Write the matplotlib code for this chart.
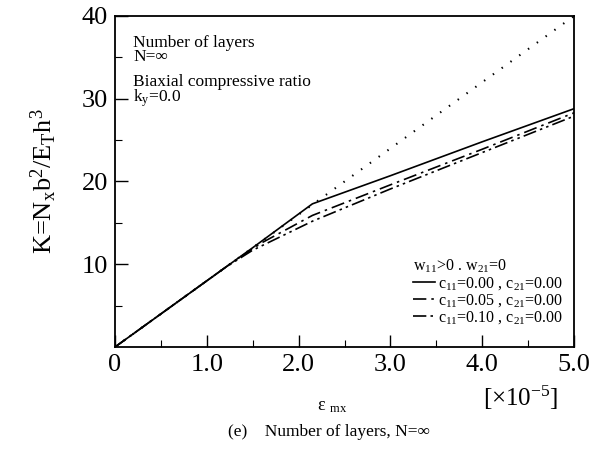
import matplotlib
matplotlib.use("Agg")
import matplotlib.pyplot as plt

plt.rcParams['font.family'] = ['Liberation Serif', 'DejaVu Serif']
plt.rcParams['mathtext.fontset'] = 'custom'
plt.rcParams['mathtext.rm'] = 'Liberation Serif'
plt.rcParams['mathtext.it'] = 'Liberation Serif:italic'

# ===== 数据 (ε_mx 单位 1e-5) =====
eps_lin = [0.0, 5.0]
K_lin   = [0.0, 40.0]

eps_c00 = [0.0, 1.0, 1.5, 2.15, 3.0, 4.0, 5.0]
K_c00   = [0.0, 8.0, 12.0, 17.3, 20.7, 24.8, 28.8]

eps_c05 = [0.0, 1.3, 1.6, 2.15, 3.0, 4.0, 5.0]
K_c05   = [0.0, 10.4, 12.6, 15.9, 19.6, 23.9, 28.3]

eps_c10 = [0.0, 1.2, 1.5, 2.15, 3.0, 4.0, 5.0]
K_c10   = [0.0, 9.6, 11.7, 15.2, 19.1, 23.5, 27.9]

labels = ["c$_{11}$=0.00 , c$_{21}$=0.00",
          "c$_{11}$=0.05 , c$_{21}$=0.00",
          "c$_{11}$=0.10 , c$_{21}$=0.00"]

x_ticks  = [0, 1, 2, 3, 4, 5]
x_labels = ["0", "1.0", "2.0", "3.0", "4.0", "5.0"]
y_ticks  = [10, 20, 30, 40]

fig = plt.figure(figsize=(5.98, 4.57), dpi=100)
ax = fig.add_axes([0.1923, 0.2407, 0.7677, 0.7243])

ax.plot(eps_lin, K_lin, color='k', lw=1.5, linestyle=(0, (0.7, 4.5)))
ax.plot(eps_c00, K_c00, color='k', lw=1.2, label=labels[0])
ax.plot(eps_c05, K_c05, color='k', lw=1.2, linestyle=(0, (8, 3, 1.5, 3)), label=labels[1])
ax.plot(eps_c10, K_c10, color='k', lw=1.2, linestyle=(0, (8, 2.5, 1.5, 2.5, 1.5, 2.5)), label=labels[2])

ax.set_xlim(0, 5)
ax.set_ylim(0, 40)
ax.set_xticks(x_ticks)
ax.set_xticklabels(x_labels)
ax.set_yticks(y_ticks)
ax.set_xticks([0.5, 1.5, 2.5, 3.5, 4.5], minor=True)
ax.set_yticks([5, 15, 25, 35], minor=True)
ax.tick_params(which='major', direction='in', length=9, width=1.0, labelsize=19, pad=5)
ax.tick_params(which='minor', direction='in', length=5, width=0.8)
for s in ax.spines.values():
    s.set_linewidth(1.3)

ax.set_ylabel("K=N$_\\mathrm{x}$b$^2$/E$_\\mathrm{T}$h$^3$", fontsize=19, labelpad=16)

ax.text(0.04, 0.898, "Number of layers\nN=\u221e", transform=ax.transAxes,
        fontsize=12.5, va='center', linespacing=0.8)
ax.text(0.04, 0.772, "Biaxial compressive ratio\nk$_\\mathrm{y}$=0.0", transform=ax.transAxes,
        fontsize=12.5, va='center', linespacing=0.8)

leg = ax.legend(loc='lower right', bbox_to_anchor=(1.0, 0.03), frameon=False,
                title="w$_{11}$>0 . w$_{21}$=0", fontsize=11.5, title_fontsize=11.5,
                handlelength=1.35, handletextpad=0.2, labelspacing=0.0, borderpad=0.2)
leg._legend_box.align = 'left'
leg._legend_box.sep = 0

fig.text(0.555, 0.11, "\u03b5 $_\\mathrm{mx}$", fontsize=13, ha='center', va='center')
fig.text(0.87, 0.13, "[\u00d710$^{-5}$]", fontsize=18, ha='center', va='center')
fig.text(0.55, 0.055, "(e)    Number of layers, N=\u221e", fontsize=12.5, ha='center', va='center')

fig.savefig("out.png", dpi=100)
